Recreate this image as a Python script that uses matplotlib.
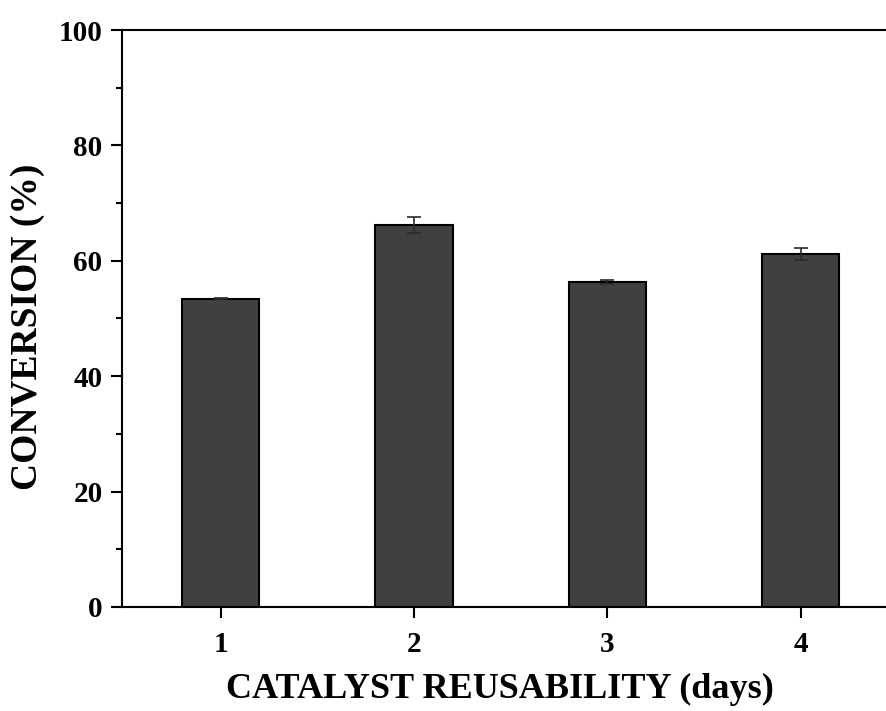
import matplotlib
matplotlib.use("Agg")
from matplotlib import pyplot as plt
from matplotlib.ticker import MultipleLocator

# reuse cycles and measured conversion (%)
days = [1, 2, 3, 4]
conversion = [53.4, 66.2, 56.3, 61.2]
conv_err = [0.1, 1.4, 0.4, 1.1]

plt.rcParams['font.family'] = ['Liberation Serif', 'DejaVu Serif']
plt.rcParams['font.weight'] = 'bold'

fig = plt.figure(figsize=(8.87, 7.11), dpi=100)
ax = fig.add_axes([0.1375, 0.1463, 0.874, 0.8115])

ax.bar(days, conversion, width=0.4, color='#404040', edgecolor='black',
       linewidth=1.5, zorder=2)
ax.errorbar(days, conversion, yerr=conv_err, fmt='none', ecolor='#2a2a2a',
            elinewidth=1.2, capsize=5, capthick=1.2, zorder=3)

ax.set_xlim(0.49, 4.5)
ax.set_ylim(0, 100)
ax.set_xticks(days)
ax.yaxis.set_major_locator(MultipleLocator(20))
ax.yaxis.set_minor_locator(MultipleLocator(10))

for side in ['left', 'bottom', 'top', 'right']:
    ax.spines[side].set_linewidth(1.5)

ax.tick_params(axis='both', which='major', direction='out', length=8,
               width=1.5, labelsize=21, pad=6)
ax.tick_params(axis='x', which='major', pad=9)
ax.tick_params(axis='y', which='minor', direction='out', length=4, width=1.5)
ax.tick_params(top=False, right=False)

ax.set_xlabel('CATALYST REUSABILITY (days)', fontsize=26, fontweight='bold',
              labelpad=11)
ax.set_ylabel('CONVERSION (%)', fontsize=27, fontweight='bold', labelpad=10)
ax.xaxis.label.set_x(0.488)
ax.yaxis.label.set_y(0.485)

fig.savefig('out.png', dpi=100)
